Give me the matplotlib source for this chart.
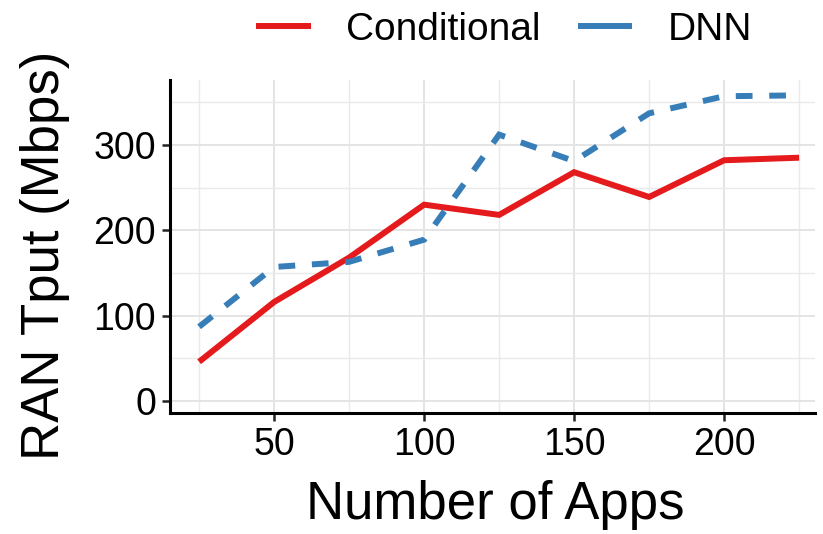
import matplotlib
matplotlib.use("Agg")
import matplotlib.pyplot as plt
from matplotlib.lines import Line2D
from matplotlib.ticker import MultipleLocator

# data
apps = [25, 50, 75, 100, 125, 150, 175, 200, 225]
conditional = [46, 116, 168, 230, 218, 268, 239, 282, 285]
dnn = [87, 157, 163, 189, 312, 281, 337, 357, 358]
series_names = ["Conditional", "DNN"]
x_ticks = [50, 100, 150, 200]
y_ticks = [0, 100, 200, 300]

plt.rcParams["font.family"] = ["Liberation Sans", "DejaVu Sans"]

fig = plt.figure(figsize=(8.23, 5.34), dpi=100)
ax = fig.add_axes([170 / 823, 121 / 534, 645 / 823, 333 / 534])

red = "#E41A1C"
blue = "#377EB8"
lw = 4.3
ax.plot(apps, conditional, color=red, linewidth=lw,
        solid_capstyle="butt", solid_joinstyle="miter")
ax.plot(apps, dnn, color=blue, linewidth=lw,
        dashes=(2.8, 2.8), dash_capstyle="butt", dash_joinstyle="miter")

ax.set_xlim(15.3, 230.3)
ax.set_ylim(-14, 376)
ax.set_xticks(x_ticks)
ax.set_yticks(y_ticks)
ax.xaxis.set_minor_locator(MultipleLocator(25))
ax.yaxis.set_minor_locator(MultipleLocator(50))
ax.tick_params(which="minor", length=0)
ax.grid(which="major", color="#e4e4e4", linewidth=1.4)
ax.grid(which="minor", color="#eaeaea", linewidth=1.0)
ax.set_axisbelow(True)

for side in ["top", "right"]:
    ax.spines[side].set_visible(False)
for side in ["left", "bottom"]:
    ax.spines[side].set_linewidth(2.2)
    ax.spines[side].set_color("black")

ax.tick_params(which="major", length=6, width=1.8, color="#222222",
               labelsize=27, pad=4)

ax.set_xlabel("Number of Apps", fontsize=38, va="center", ha="center")
ax.set_ylabel("RAN Tput (Mbps)", fontsize=38, va="center", ha="center")
ax.xaxis.set_label_coords(0.504, -0.276)
ax.yaxis.set_label_coords(-0.194, 0.474)

# legend keys are drawn solid, as in the reference
handles = [Line2D([], [], color=red, linewidth=lw, solid_capstyle="butt"),
           Line2D([], [], color=blue, linewidth=lw, solid_capstyle="butt")]
fig.legend(handles, series_names, loc="center",
           bbox_to_anchor=(504 / 823, 1 - 30 / 534), ncol=2,
           frameon=False, fontsize=28, handlelength=1.41, handletextpad=0.9,
           columnspacing=0.95)

fig.savefig("out.png", dpi=100)
